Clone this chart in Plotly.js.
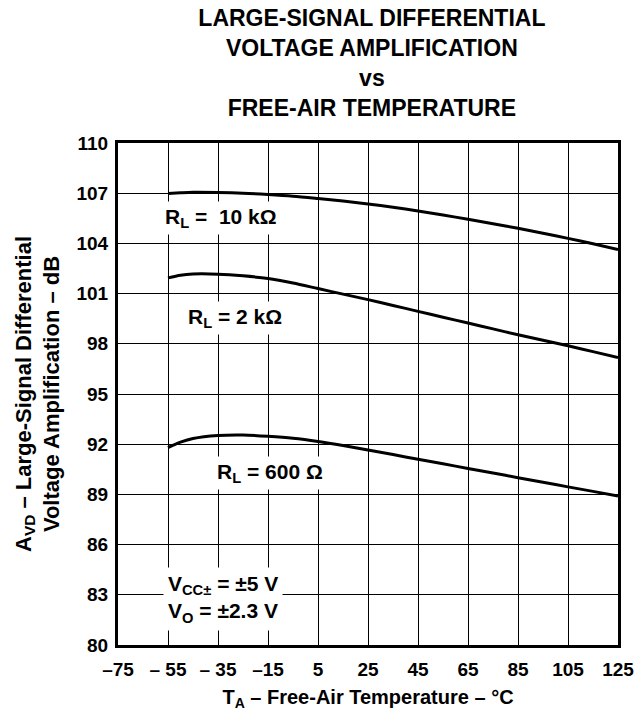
<!DOCTYPE html>
<html><head><meta charset="utf-8">
<script src="https://cdn.plot.ly/plotly-3.0.1.min.js"></script>
<style>body{margin:0;background:#fff}#c{width:639px;height:715px}</style>
</head><body><div id="c"></div>
<script>
const temps = [-55, -50, -45, -35, -25, -15, -5, 5, 15, 25, 35, 45, 55, 65, 75, 85, 95, 105, 115, 125];
const av10k = [106.98, 107.02, 107.05, 107.04, 107.0, 106.92, 106.82, 106.68, 106.53, 106.36, 106.16, 105.94, 105.7, 105.44, 105.18, 104.9, 104.61, 104.3, 103.98, 103.64];
const av2k = [101.94, 102.1, 102.17, 102.16, 102.06, 101.9, 101.63, 101.3, 100.97, 100.64, 100.29, 99.94, 99.59, 99.24, 98.89, 98.54, 98.21, 97.88, 97.53, 97.18];
const av600 = [91.8, 92.12, 92.34, 92.52, 92.55, 92.47, 92.35, 92.16, 91.92, 91.65, 91.38, 91.1, 90.83, 90.55, 90.28, 90.0, 89.73, 89.45, 89.18, 88.9];
const xTickVals = [-75, -55, -35, -15, 5, 25, 45, 65, 85, 105, 125];
const xTickText = ['–75', '– 55', '– 35', '–15', '5', '25', '45', '65', '85', '105', '125'];
const yTickVals = [80, 83, 86, 89, 92, 95, 98, 101, 104, 107, 110];
const yTickText = ['80', '83', '86', '89', '92', '95', '98', '101', '104', '107', '110'];
const labels = ['R<sub>L</sub> =  10 kΩ', 'R<sub>L</sub> = 2 kΩ', 'R<sub>L</sub> = 600 Ω'];

const F = 'Liberation Sans, Arial, sans-serif';
const line = {color: '#000', width: 3, shape: 'spline', smoothing: 0.8};
const traces = [av10k, av2k, av600].map(v => ({x: temps, y: v, mode: 'lines', line: line, hoverinfo: 'skip'}));

const ann = (x, y, text) => ({x: x, y: y, xref: 'x', yref: 'y', text: '<b>' + text + '</b>', showarrow: false,
  bgcolor: '#fff', borderpad: 3, align: 'center', xanchor: 'center', yanchor: 'middle',
  font: {family: F, size: 21, color: '#000'}});

const layout = {
  width: 639, height: 715,
  margin: {l: 118, r: 21, t: 143, b: 70},
  paper_bgcolor: '#fff', plot_bgcolor: '#fff',
  showlegend: false,
  title: {text: '<b>LARGE-SIGNAL DIFFERENTIAL<br>VOLTAGE AMPLIFICATION<br>vs<br>FREE-AIR TEMPERATURE</b>',
    x: 0.582, xanchor: 'center', yref: 'container', y: 0.963, yanchor: 'top', font: {family: F, size: 23, color: '#000'}},
  xaxis: {range: [-75, 125], tickvals: xTickVals, ticktext: xTickText, showgrid: true, gridcolor: '#000', gridwidth: 1,
    zeroline: false, showline: true, linecolor: '#000', linewidth: 3, mirror: true, ticks: '', ticklabelstandoff: 5,
    tickfont: {family: F, size: 19, color: '#000', weight: 'bold'},
    title: {text: '<b>T<sub>A</sub> – Free-Air Temperature – °C</b>', font: {family: F, size: 20, color: '#000'}, standoff: 12}},
  yaxis: {range: [80, 110], tickvals: yTickVals, ticktext: yTickText, showgrid: true, gridcolor: '#000', gridwidth: 1,
    zeroline: false, showline: true, linecolor: '#000', linewidth: 3, mirror: true, ticks: '', ticklabelstandoff: 3,
    tickfont: {family: F, size: 19, color: '#000', weight: 'bold'},
    title: {text: '<b>A<sub>VD</sub> – Large-Signal Differential<br>Voltage Amplification – dB</b>', font: {family: F, size: 22, color: '#000'}, standoff: 11}},
  annotations: [
    ann(-33.8, 105.5, labels[0]),
    ann(-28.2, 99.55, labels[1]),
    ann(-14.2, 90.3, labels[2]),
    {x: -57, y: 82.76, xref: 'x', yref: 'y', text: '<b>V<sub>CC±</sub> = ±5 V<br>V<sub>O</sub> = ±2.3 V</b>', showarrow: false,
      bgcolor: '#fff', borderpad: 4, align: 'left', xanchor: 'left', yanchor: 'middle', font: {family: F, size: 21, color: '#000'}}
  ]
};
Plotly.newPlot('c', traces, layout, {staticPlot: true, displayModeBar: false});
</script></body></html>
